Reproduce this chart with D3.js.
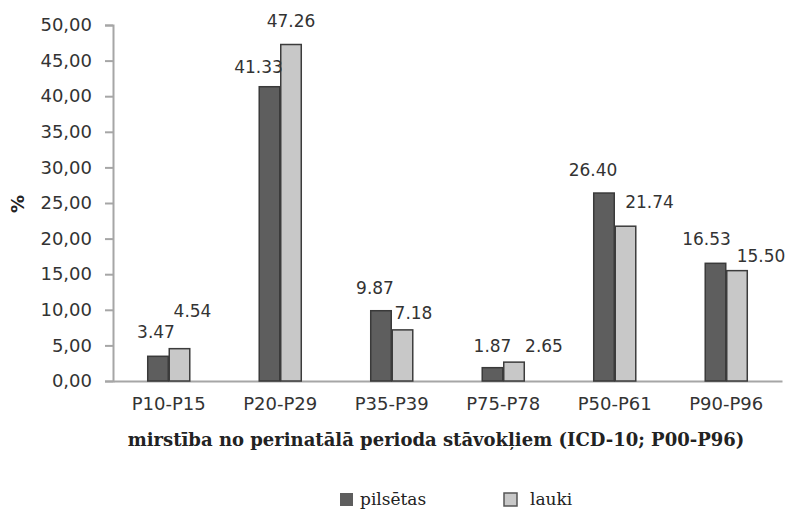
<!DOCTYPE html>
<html>
<head>
<meta charset="utf-8">
<script src="https://cdn.jsdelivr.net/npm/d3@7"></script>
<style>
  html, body { margin: 0; padding: 0; background: #fff; }
  svg { display: block; }
</style>
</head>
<body>
<svg id="chart" width="794" height="509"></svg>
<script>
// Perinatal-period mortality by ICD-10 block, urban vs rural (%)
const categories = ["P10-P15", "P20-P29", "P35-P39", "P75-P78", "P50-P61", "P90-P96"];
const seriesNames = ["pilsētas", "lauki"];
const pilsetas = [3.47, 41.33, 9.87, 1.87, 26.40, 16.53];
const lauki = [4.54, 47.26, 7.18, 2.65, 21.74, 15.50];
const yTicks = [0, 5, 10, 15, 20, 25, 30, 35, 40, 45, 50];

// hand-placed label nudges per category: [dx, dy] for each series, relative to bar centre / bar top
const labelShift = [
  [[-2, -24], [13, -38]],
  [[-11, -20], [0, -24]],
  [[-6, -23], [11, -17]],
  [[0, -22], [30, -16]],
  [[-11, -23], [24, -24]],
  [[-9, -24], [24, -15]]
];

const colors = { fill: ["#5e5e5e", "#c8c8c8"], stroke: ["#3a3a3a", "#3c3c3c"] };
const sansFont = "'DejaVu Sans', sans-serif";
const serifFont = "'DejaVu Serif', 'Liberation Serif', serif";

const svg = d3.select("#chart");
const margin = { left: 113, right: 12, top: 25, bottom: 128 };
const W = 794, H = 509;

const y = d3.scaleLinear().domain([0, 50]).range([H - margin.bottom, margin.top]);
const x0 = d3.scaleBand().domain(categories)
  .range([margin.left, W - margin.right])
  .paddingInner(0.614).paddingOuter(0.307);
const x1 = d3.scaleBand().domain(seriesNames).range([0, x0.bandwidth()]);

const rows = categories.map((c, i) => ({ cat: c, i, vals: [pilsetas[i], lauki[i]] }));

// y axis
const yAxis = d3.axisLeft(y).tickValues(yTicks).tickSize(8).tickPadding(13)
  .tickFormat(d => d3.format(".2f")(d).replace(".", ","));
const gy = svg.append("g").attr("transform", `translate(${margin.left},0)`).call(yAxis);
gy.select(".domain").attr("stroke", "#a6a6a6").attr("stroke-width", 2);
gy.selectAll(".tick line").attr("stroke", "#a6a6a6").attr("stroke-width", 2);
gy.selectAll(".tick text").attr("fill", "#333").style("font-family", sansFont).style("font-size", "18px");

// x axis (baseline + category labels)
const xAxis = d3.axisBottom(x0).tickSize(0).tickPadding(16);
const gx = svg.append("g").attr("transform", `translate(0,${y(0)})`).call(xAxis);
gx.select(".domain").attr("stroke", "#a6a6a6").attr("stroke-width", 2);
gx.selectAll(".tick text").attr("fill", "#333").style("font-family", sansFont).style("font-size", "18px");

// bars
const groups = svg.append("g").selectAll("g").data(rows).join("g")
  .attr("transform", d => `translate(${x0(d.cat)},0)`);

groups.selectAll("rect").data(d => d.vals.map((v, s) => ({ v, s }))).join("rect")
  .attr("x", d => x1(seriesNames[d.s]) + 0.5)
  .attr("y", d => y(d.v))
  .attr("width", x1.bandwidth() - 1)
  .attr("height", d => y(0) - y(d.v))
  .attr("fill", d => colors.fill[d.s])
  .attr("stroke", d => colors.stroke[d.s])
  .attr("stroke-width", 1.5);

// value labels
groups.selectAll("text.val").data(d => d.vals.map((v, s) => ({ v, s, i: d.i }))).join("text")
  .attr("class", "val")
  .attr("x", d => x1(seriesNames[d.s]) + x1.bandwidth() / 2 + labelShift[d.i][d.s][0])
  .attr("y", d => y(d.v) + labelShift[d.i][d.s][1])
  .attr("dy", "0.36em")
  .attr("text-anchor", "middle")
  .attr("fill", "#333")
  .style("font-family", sansFont)
  .style("font-size", "17px")
  .text(d => d3.format(".2f")(d.v));

// axis titles
svg.append("text")
  .attr("transform", "translate(18,204) rotate(-90)")
  .attr("text-anchor", "middle").attr("dy", "0.35em")
  .attr("fill", "#222")
  .style("font-family", sansFont).style("font-size", "18px").style("font-weight", "bold")
  .text("%");

svg.append("text")
  .attr("x", 436).attr("y", 446)
  .attr("text-anchor", "middle")
  .attr("fill", "#222")
  .style("font-family", serifFont).style("font-size", "18px").style("font-weight", "bold")
  .text("mirstība no perinatālā perioda stāvokļiem (ICD-10; P00-P96)");

// legend
const legendX = [340, 504];
const legend = svg.append("g").selectAll("g").data(seriesNames).join("g")
  .attr("transform", (d, i) => `translate(${legendX[i]},493)`);
legend.append("rect")
  .attr("width", 13).attr("height", 13)
  .attr("fill", (d, i) => colors.fill[i])
  .attr("stroke", (d, i) => i === 0 ? "none" : "#555")
  .attr("stroke-width", 1.5);
legend.append("text")
  .attr("x", (d, i) => i === 0 ? 20 : 26).attr("y", 12)
  .attr("fill", "#222")
  .style("font-family", serifFont).style("font-size", "17px")
  .text(d => d);
</script>
</body>
</html>
